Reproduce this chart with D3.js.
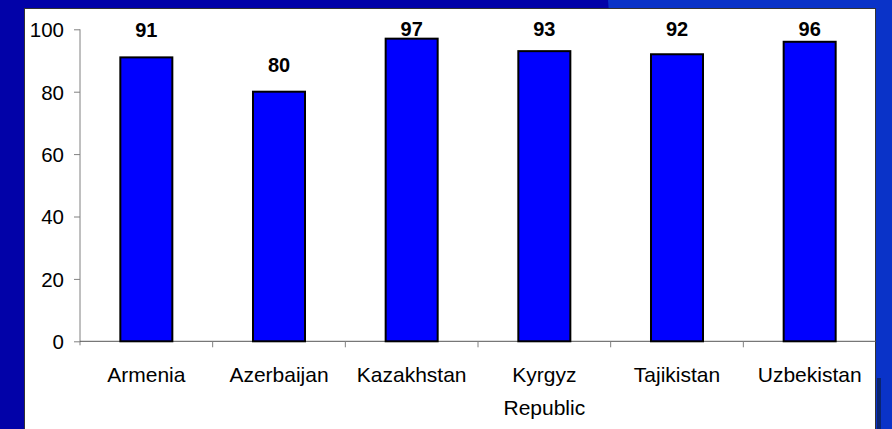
<!DOCTYPE html>
<html>
<head>
<meta charset="utf-8">
<script src="https://cdn.jsdelivr.net/npm/d3@7"></script>
<style>
  body { margin: 0; padding: 0; overflow: hidden; }
  svg { display: block; font-family: Arial, "Liberation Sans", sans-serif; }
</style>
</head>
<body>
<svg id="chart" width="892" height="429"></svg>
<script>
// chart values
var countries = ["Armenia", "Azerbaijan", "Kazakhstan", "Kyrgyz Republic", "Tajikistan", "Uzbekistan"];
var values = [91, 80, 97, 93, 92, 96];
var yTicks = [0, 20, 40, 60, 80, 100];

var svg = d3.select("#chart"),
    width = 892,
    height = 429;

// slide background
svg.append("rect")
    .attr("width", width).attr("height", height)
    .attr("fill", "#0202a8");
svg.append("polygon")
    .attr("points", "608,0 892,0 892,429 640,429")
    .attr("fill", "#0a33c8");
svg.append("rect")
    .attr("x", 877).attr("y", 378).attr("width", 4).attr("height", 51)
    .attr("fill", "#0a2470");

// white chart panel
svg.append("rect")
    .attr("x", 24.5).attr("y", 8.5)
    .attr("width", 851).attr("height", 430)
    .attr("fill", "#ffffff")
    .attr("stroke", "#333333")
    .attr("stroke-width", 1);

// plot area (note: "top" is reserved on window)
var pLeft = 80, pRight = 876, pTop = 29.3, pBottom = 341.3;

var x = d3.scaleBand()
    .domain(countries)
    .range([pLeft, pRight])
    .paddingInner(0.608)
    .paddingOuter(0.304);

var y = d3.scaleLinear()
    .domain([0, 100])
    .range([pBottom, pTop]);

// y axis
var yAxis = svg.append("g")
    .attr("transform", "translate(" + pLeft + ",0)")
    .call(d3.axisLeft(y).tickValues(yTicks).tickSize(6).tickPadding(10).tickSizeOuter(0));
yAxis.select(".domain").attr("stroke", "#808080").attr("d", "M0," + pTop + "V" + (pBottom + 4));
yAxis.selectAll(".tick line").attr("stroke", "#808080");
yAxis.selectAll(".tick text")
    .attr("fill", "#000")
    .style("font-size", "20.5px")
    .attr("dy", "0.36em");

// x axis line with ticks between categories
var xg = svg.append("g");
xg.append("line")
    .attr("x1", pLeft).attr("x2", pRight)
    .attr("y1", pBottom).attr("y2", pBottom)
    .attr("stroke", "#555555");
d3.range(1, countries.length).forEach(function(i) {
    var tx = pLeft + i * (pRight - pLeft) / countries.length;
    xg.append("line")
        .attr("x1", tx).attr("x2", tx)
        .attr("y1", pBottom).attr("y2", pBottom + 6)
        .attr("stroke", "#808080");
});

// bars
svg.append("g").selectAll("rect")
    .data(values)
    .enter().append("rect")
    .attr("x", function(d, i) { return x(countries[i]); })
    .attr("y", function(d) { return y(d); })
    .attr("width", x.bandwidth())
    .attr("height", function(d) { return pBottom - y(d); })
    .attr("fill", "#0000ff")
    .attr("stroke", "#000")
    .attr("stroke-width", 2);

// value labels (kept inside plot top)
svg.append("g").selectAll("text")
    .data(values)
    .enter().append("text")
    .attr("x", function(d, i) { return x(countries[i]) + x.bandwidth() / 2; })
    .attr("y", function(d) { return Math.max(36, y(d) - 20); })
    .attr("text-anchor", "middle")
    .style("font-size", "20px")
    .style("font-weight", "bold")
    .text(function(d) { return d; });

// category labels
var cat = svg.append("g").selectAll("text")
    .data(countries)
    .enter().append("text")
    .attr("x", function(d) { return x(d) + x.bandwidth() / 2; })
    .attr("y", 382)
    .attr("text-anchor", "middle")
    .style("font-size", "21px");
cat.each(function(d) {
    var words = d == "Kyrgyz Republic" ? ["Kyrgyz", "Republic"] : [d];
    var t = d3.select(this);
    words.forEach(function(w, k) {
        t.append("tspan")
            .attr("x", t.attr("x"))
            .attr("dy", k == 0 ? 0 : 33)
            .text(w);
    });
});
</script>
</body>
</html>
